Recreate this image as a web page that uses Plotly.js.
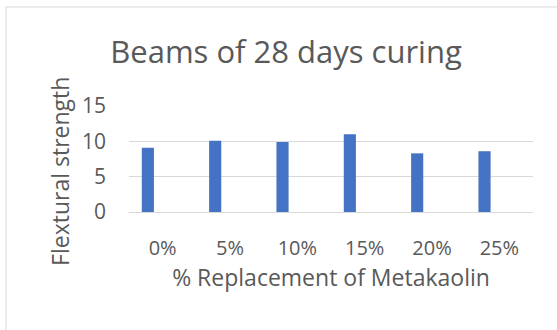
<!DOCTYPE html>
<html>
<head>
<meta charset="utf-8">
<script src="https://cdn.plot.ly/plotly-3.0.1.min.js"></script>
<style>html,body{margin:0;padding:0;background:#fff;}#chart{width:557px;height:330px;}</style>
</head>
<body>
<div id="chart"></div>
<script>
const categories = ["0%", "5%", "10%", "15%", "20%", "25%"];
const flexuralStrength = [9.1, 10.1, 9.9, 11.0, 8.3, 8.6];
const yTicks = [0, 5, 10, 15];

const FONT = "'Open Sans', Lato, sans-serif";
const trace = {
  type: "bar",
  x: categories,
  y: flexuralStrength,
  marker: {color: "#4472C4"},
  width: 0.18,
  offset: -0.31,
  hoverinfo: "x+y"
};
const layout = {
  width: 557, height: 330,
  margin: {l: 129, r: 24, t: 106, b: 118},
  paper_bgcolor: "#fff", plot_bgcolor: "#fff",
  showlegend: false,
  font: {family: FONT, color: "#595959"},
  title: {text: "Beams of 28 days curing", font: {family: FONT, size: 31, color: "#595959"},
          x: 0.5135, xanchor: "center", y: 0.842, yanchor: "middle", xref: "container", yref: "container"},
  xaxis: {
    type: "category", showgrid: false, zeroline: false, showline: false,
    ticks: "", tickfont: {size: 20, color: "#595959"}, ticklabelstandoff: 22,
    title: {text: "% Replacement of Metakaolin", font: {size: 23, color: "#595959"}, standoff: 8}
  },
  yaxis: {
    range: [0, 15], tickvals: yTicks, showgrid: true, gridcolor: "#d9d9d9", gridwidth: 1,
    zeroline: true, zerolinecolor: "#d9d9d9", showline: false, ticks: "",
    tickfont: {size: 21, color: "#595959"}, ticklabelstandoff: 22
  },
  annotations: [{text: "Flextural strength", textangle: -90, xref: "paper", yref: "paper",
                 x: -0.171, y: 0.387, xanchor: "center", yanchor: "middle", showarrow: false,
                 font: {family: FONT, size: 23, color: "#595959"}}],
  shapes: [{type: "rect", xref: "paper", yref: "paper", x0: -0.3045, x1: 1.3, y0: -1.6, y1: 1.934,
            line: {color: "#d9d9d9", width: 1}, fillcolor: "rgba(0,0,0,0)"}]
};
Plotly.newPlot("chart", [trace], layout, {displayModeBar: false, staticPlot: true});
</script>
</body>
</html>
